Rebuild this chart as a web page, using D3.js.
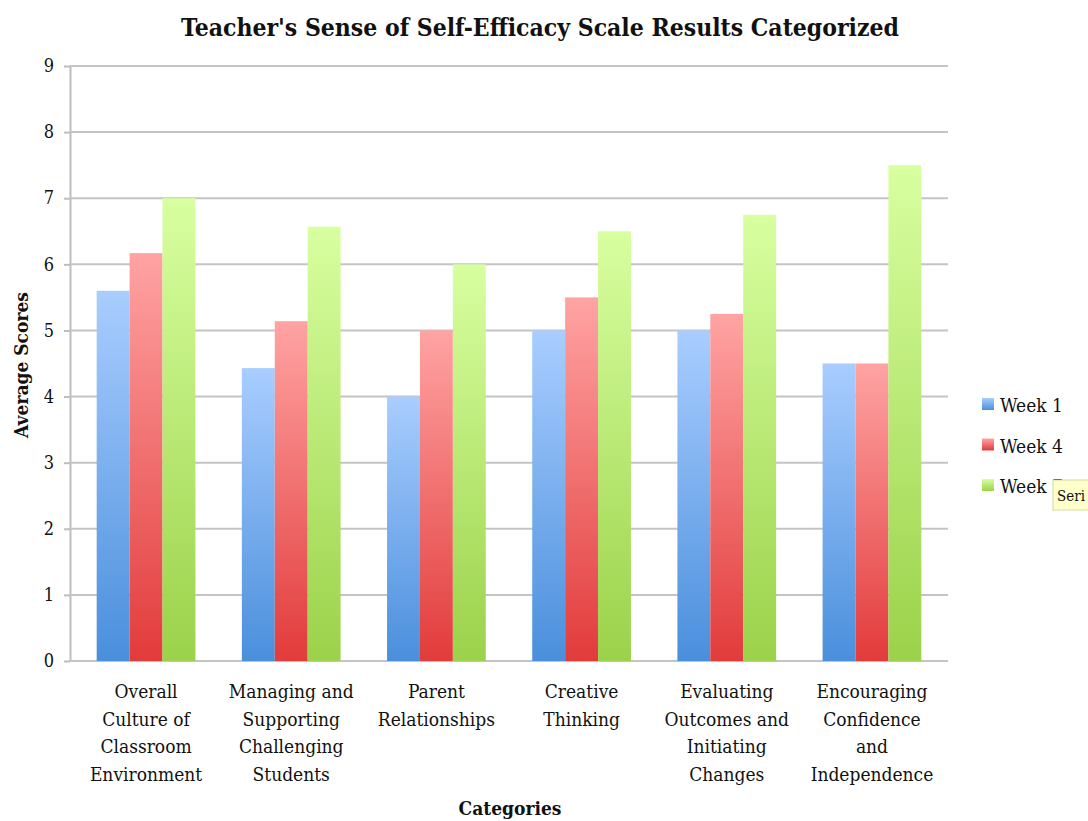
<!DOCTYPE html>
<html>
<head>
<meta charset="utf-8">
<script src="https://cdn.jsdelivr.net/npm/d3@7"></script>
<style>
  body { margin: 0; background: #fff; }
  text { font-family: "DejaVu Serif Condensed", "Liberation Serif", serif; fill: #111; }
</style>
</head>
<body>
<div id="chart"></div>
<script>
// data
var categories = [
  ["Overall", "Culture of", "Classroom", "Environment"],
  ["Managing and", "Supporting", "Challenging", "Students"],
  ["Parent", "Relationships"],
  ["Creative", "Thinking"],
  ["Evaluating", "Outcomes and", "Initiating", "Changes"],
  ["Encouraging", "Confidence", "and", "Independence"]
];
var seriesNames = ["Week 1", "Week 4", "Week 7"];
var week1 = [5.6, 4.43, 4.0, 5.0, 5.0, 4.5];
var week4 = [6.17, 5.14, 5.0, 5.5, 5.25, 4.5];
var week7 = [7.0, 6.57, 6.0, 6.5, 6.75, 7.5];
var yTicks = [0, 1, 2, 3, 4, 5, 6, 7, 8, 9];

var width = 1088, height = 821;
var padding = { top: 66, right: 140, bottom: 160, left: 70 };
var colors = [
  { top: "#a9cdff", bottom: "#4a8fdc" },
  { top: "#ffa3a3", bottom: "#e23b3b" },
  { top: "#d8ffa0", bottom: "#9bd24a" }
];

var svg = d3.select("#chart").append("svg")
  .attr("width", width)
  .attr("height", height);

var defs = svg.append("defs");
colors.forEach(function (c, i) {
  var g = defs.append("linearGradient")
    .attr("id", "grad" + i)
    .attr("x1", 0).attr("y1", 0).attr("x2", 0).attr("y2", 1);
  g.append("stop").attr("offset", "0%").attr("stop-color", c.top);
  g.append("stop").attr("offset", "100%").attr("stop-color", c.bottom);
});

var idx = d3.range(categories.length);
// bars sit a little inside the plot area, like the original
var xscale = d3.scaleBand()
  .domain(idx)
  .range([padding.left + 2, width - padding.right - 2])
  .paddingInner(0.32)
  .paddingOuter(0.17);

var inner = d3.scaleBand()
  .domain(d3.range(seriesNames.length))
  .range([0, xscale.bandwidth()]);

var yscale = d3.scaleLinear()
  .domain([0, 9])
  .range([height - padding.bottom, padding.top]);

// y axis
var yAxis = svg.append("g")
  .attr("transform", "translate(" + padding.left + ",0)")
  .call(d3.axisLeft(yscale).tickValues(yTicks)
    .tickSize(6).tickSizeOuter(0).tickPadding(10));
yAxis.select(".domain").attr("stroke", "#bdbdbd").attr("stroke-width", 2);
yAxis.selectAll(".tick line").attr("stroke", "#bdbdbd").attr("stroke-width", 2);
yAxis.selectAll(".tick text").style("font-size", "18px")
  .style("font-family", "'DejaVu Serif Condensed', serif");

// gridlines
svg.append("g").selectAll("line")
  .data(yTicks)
  .enter().append("line")
  .attr("x1", padding.left)
  .attr("x2", width - padding.right)
  .attr("y1", function (d) { return yscale(d); })
  .attr("y2", function (d) { return yscale(d); })
  .attr("stroke", "#c4c4c4")
  .attr("stroke-width", 2);

// bars
var allSeries = [week1, week4, week7];
allSeries.forEach(function (vals, s) {
  svg.append("g").selectAll("rect")
    .data(vals)
    .enter().append("rect")
    .attr("x", function (d, i) { return xscale(i) + inner(s); })
    .attr("y", function (d) { return yscale(d); })
    .attr("width", inner.bandwidth())
    .attr("height", function (d) { return yscale(0) - yscale(d); })
    .attr("fill", "url(#grad" + s + ")");
});

// x labels
var xl = svg.append("g");
categories.forEach(function (lines, i) {
  var cx = xscale(i) + xscale.bandwidth() / 2;
  var t = xl.append("text")
    .attr("text-anchor", "middle")
    .attr("x", cx)
    .attr("y", 698)
    .style("font-size", "19px");
  lines.forEach(function (l, k) {
    t.append("tspan")
      .attr("x", cx)
      .attr("dy", k === 0 ? 0 : 27.5)
      .text(l);
  });
});

// title + axis titles
svg.append("text")
  .attr("x", 540).attr("y", 36)
  .attr("text-anchor", "middle")
  .style("font-size", "24.5px").style("font-weight", "bold")
  .text("Teacher's Sense of Self-Efficacy Scale Results Categorized");

svg.append("text")
  .attr("x", 510).attr("y", 815)
  .attr("text-anchor", "middle")
  .style("font-size", "19px").style("font-weight", "bold")
  .text("Categories");

svg.append("text")
  .attr("transform", "translate(28,365) rotate(-90)")
  .attr("text-anchor", "middle")
  .style("font-size", "19px").style("font-weight", "bold")
  .text("Average Scores");

// legend
var legend = svg.append("g").attr("transform", "translate(982,398)");
seriesNames.forEach(function (name, i) {
  var row = legend.append("g").attr("transform", "translate(0," + (i * 40.5) + ")");
  row.append("rect")
    .attr("width", 12).attr("height", 12)
    .attr("fill", "url(#grad" + i + ")");
  row.append("text")
    .attr("x", 18).attr("y", 14)
    .style("font-size", "19px")
    .text(name);
});

// tooltip left over in the screenshot (cut by the window edge)
var tip = svg.append("g").attr("transform", "translate(1053,480)");
tip.append("rect")
  .attr("width", 60).attr("height", 30)
  .attr("fill", "#ffffcc").attr("stroke", "#d8d8a0");
tip.append("text")
  .attr("x", 4).attr("y", 21)
  .style("font-size", "15px")
  .text("Seri");
</script>
</body>
</html>
